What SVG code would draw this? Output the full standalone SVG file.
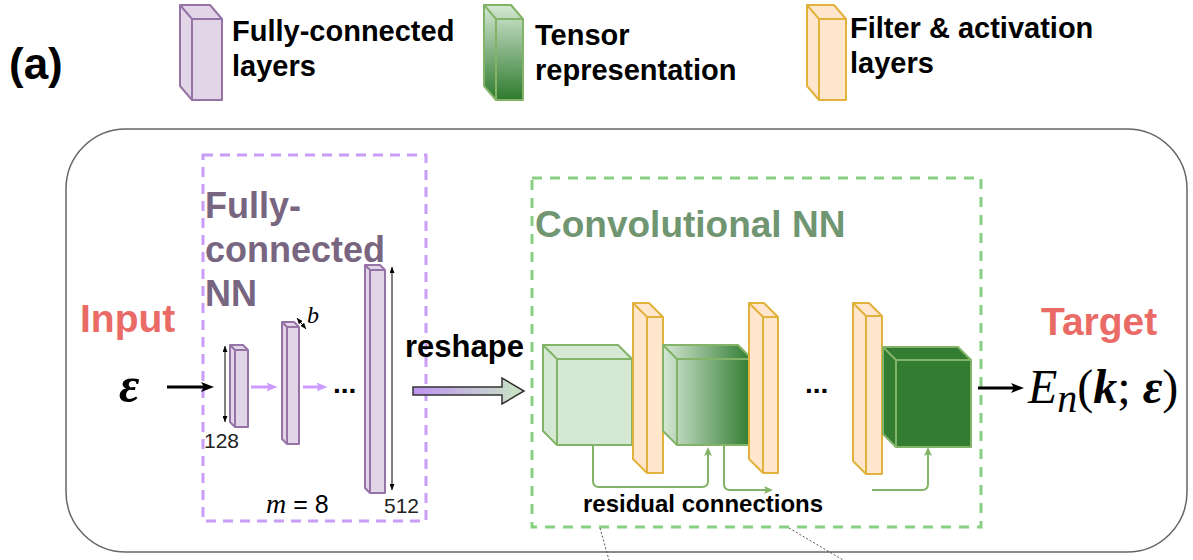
<svg xmlns="http://www.w3.org/2000/svg" width="1193" height="560" viewBox="0 0 1193 560">
<style>
.sans{font-family:"Liberation Sans",Arial,sans-serif}
.b{font-weight:bold}
.ser{font-family:"Liberation Serif","Times New Roman",serif}
.fc{fill:#e1d5e7;stroke:#9673a6;stroke-width:2;stroke-linejoin:round}
.fci{fill:none;stroke:#9673a6;stroke-width:2}
.lg{fill:#d5e8d4;stroke:#82b366;stroke-width:2;stroke-linejoin:round}
.gi{fill:none;stroke:#82b366;stroke-width:2}
.sl{fill:#ffe6cc;stroke:#e2b23c;stroke-width:2;stroke-linejoin:round}
.sli{fill:none;stroke:#e2b23c;stroke-width:2}
.res{fill:none;stroke:#82b366;stroke-width:2}
.dim{stroke:#000;stroke-width:1;fill:none}
</style>
<defs>
<marker id="aBlk" markerUnits="userSpaceOnUse" markerWidth="13" markerHeight="11" refX="3" refY="5" orient="auto"><path d="M0,0 L13,5 L0,10 L3,5 Z" fill="#000"/></marker>
<marker id="aPur" markerUnits="userSpaceOnUse" markerWidth="11" markerHeight="10" refX="2.5" refY="4.5" orient="auto"><path d="M0,0 L11,4.5 L0,9 L2.5,4.5 Z" fill="#cc99ff"/></marker>
<marker id="aGrn" markerUnits="userSpaceOnUse" markerWidth="10" markerHeight="9" refX="2" refY="4" orient="auto"><path d="M0,0 L9,4 L0,8 L2,4 Z" fill="#82b366"/></marker>
<marker id="aDim" markerUnits="userSpaceOnUse" markerWidth="6" markerHeight="5" refX="6" refY="2.5" orient="auto-start-reverse"><path d="M0,0 L6,2.5 L0,5 Z" fill="#000"/></marker>
<linearGradient id="gLeg" gradientUnits="userSpaceOnUse" x1="0" y1="5" x2="0" y2="100"><stop offset="0" stop-color="#d5e8d4"/><stop offset="1" stop-color="#2d7a2d"/></linearGradient>
<linearGradient id="gC2" gradientUnits="userSpaceOnUse" x1="663" y1="0" x2="752" y2="0"><stop offset="0" stop-color="#d5e8d4"/><stop offset="1" stop-color="#2f7b30"/></linearGradient>
<linearGradient id="gRes" gradientUnits="userSpaceOnUse" x1="413" y1="0" x2="524" y2="0"><stop offset="0" stop-color="#bf93f2"/><stop offset="1" stop-color="#c9e7c3"/></linearGradient>
</defs>

<rect width="1193" height="560" fill="#fff"/>

<g id="legend">
<text class="sans b" x="9" y="79" font-size="44">(a)</text>
<g id="legend-fc">
<path class="fc" d="M180,5 H210 L222,19 V100 H192 L180,86 Z"/>
<path class="fci" d="M180,5 L192,19 H222 M192,19 V100"/>
<text class="sans b" font-size="29"><tspan x="232" y="41">Fully-connected</tspan><tspan x="232" y="76">layers</tspan></text>
</g>
<g id="legend-tensor">
<path d="M484,5 H511 L523,19 V100 H496 L484,86 Z" fill="url(#gLeg)" stroke="#82b366" stroke-width="2" stroke-linejoin="round"/>
<path class="gi" d="M484,5 L496,19 H523 M496,19 V100"/>
<text class="sans b" font-size="29"><tspan x="535" y="45">Tensor</tspan><tspan x="535" y="80">representation</tspan></text>
</g>
<g id="legend-filter">
<path class="sl" d="M807,5 H834 L846,19 V100 H819 L807,86 Z"/>
<path class="sli" d="M807,5 L819,19 H846 M819,19 V100"/>
<text class="sans b" font-size="29"><tspan x="850" y="38">Filter &amp; activation</tspan><tspan x="850" y="73">layers</tspan></text>
</g>
</g>

<g id="frame">
<rect x="66" y="129" width="1121" height="423" rx="60" ry="60" fill="none" stroke="#666" stroke-width="1.5"/>
</g>

<g id="fc-group">
<rect x="203" y="155" width="223" height="366" fill="none" stroke="#c89cf7" stroke-width="3" stroke-dasharray="10 7"/>
<text class="sans b" font-size="36" fill="#786580"><tspan x="205" y="218">Fully-</tspan><tspan x="205" y="262">connected</tspan><tspan x="205" y="306">NN</tspan></text>
</g>

<g id="cnn-group">
<rect x="532" y="178" width="449" height="349" fill="none" stroke="#87cf82" stroke-width="3" stroke-dasharray="10 8"/>
<text class="sans b" x="535" y="237" font-size="37" fill="#6f9670">Convolutional NN</text>
</g>

<g id="input">
<text class="sans b" x="80" y="332" font-size="39" fill="#ea6b66">Input</text>
<text class="ser b" x="119" y="402" font-size="50" font-style="italic">ε</text>
</g>

<g id="fc1">
<path class="fc" d="M230,345 H243 L248,350 V427 H235 L230,422 Z"/>
<path class="fci" d="M230,345 L235,350 H248 M235,350 V427"/>
<line class="dim" x1="225" y1="346" x2="225" y2="422" marker-start="url(#aDim)" marker-end="url(#aDim)"/>
<text class="sans" x="204" y="448" font-size="21" fill="#222">128</text>
</g>
<g id="fc2">
<path class="fc" d="M282,322 H294 L299,327 V444 H287 L282,439 Z"/>
<path class="fci" d="M282,322 L287,327 H299 M287,327 V444"/>
<line class="dim" x1="297" y1="318" x2="306" y2="329" marker-start="url(#aDim)" marker-end="url(#aDim)"/>
<text class="ser" x="307" y="323" font-size="24" font-style="italic">b</text>
</g>
<g id="fc3">
<path class="fc" d="M365,265 H380 L385,270 V493 H370 L365,488 Z"/>
<path class="fci" d="M365,265 L370,270 H385 M370,270 V493"/>
<line class="dim" x1="392" y1="267" x2="392" y2="490" marker-start="url(#aDim)" marker-end="url(#aDim)"/>
<text class="sans" x="384" y="513" font-size="21" fill="#222">512</text>
</g>
<g id="fc-labels">
<text class="sans b" x="333" y="393" font-size="28">...</text>
<text x="266" y="513" font-size="25"><tspan class="ser" font-style="italic" font-size="28">m</tspan><tspan class="sans"> = 8</tspan></text>
</g>

<g id="reshape">
<text class="sans b" x="405" y="357" font-size="31">reshape</text>
<path d="M413,387 H502 V378 L524,391 L502,404 V395 H413 Z" fill="url(#gRes)" stroke="#333" stroke-width="1.5" stroke-linejoin="miter"/>
</g>

<g id="cube1">
<path class="lg" d="M543,345 H618 L632,359 V445 H557 L543,431 Z"/>
<path class="gi" d="M543,345 L557,359 H632 M557,359 V445"/>
</g>
<g id="filter1">
<path class="sl" d="M633,303 H649 L663,317 V473 H647 L633,459 Z"/>
<path class="sli" d="M633,303 L647,317 H663 M647,317 V473"/>
</g>
<g id="cube2">
<path d="M663,345 H738 L752,359 V445 H677 L663,431 Z" fill="url(#gC2)" stroke="#82b366" stroke-width="2" stroke-linejoin="round"/>
<path class="gi" d="M663,345 L677,359 H752 M677,359 V445"/>
</g>
<g id="filter2">
<path class="sl" d="M749,303 H764 L778,317 V473 H763 L749,459 Z"/>
<path class="sli" d="M749,303 L763,317 H778 M763,317 V473"/>
</g>
<g id="dots2">
<text class="sans b" x="805" y="393" font-size="28">...</text>
</g>
<g id="filter3">
<path class="sl" d="M853,303 H869 L882,316 V474 H866 L853,461 Z"/>
<path class="sli" d="M853,303 L866,316 H882 M866,316 V474"/>
</g>
<g id="cube3">
<path d="M883,347 H958 L971,360 V447 H896 L883,434 Z" fill="#337d33" stroke="#82b366" stroke-width="2" stroke-linejoin="round"/>
<path class="gi" d="M883,347 L896,360 H971 M896,360 V447"/>
</g>

<g id="target">
<text class="sans b" x="1041" y="335" font-size="39" fill="#ea6b66">Target</text>
<text class="ser" x="1028" y="403" font-size="48" font-style="italic">E<tspan font-size="40" dy="9">n</tspan><tspan dy="-9" font-style="normal">(</tspan><tspan font-weight="bold">k</tspan><tspan font-style="normal">; </tspan><tspan font-weight="bold">ε</tspan><tspan font-style="normal">)</tspan></text>
</g>

<g id="residual-label">
<text class="sans b" x="583" y="512" font-size="24">residual connections</text>
</g>

<g id="connectors">
<line x1="167" y1="387" x2="204" y2="387" stroke="#000" stroke-width="3" marker-end="url(#aBlk)"/>
<line x1="251" y1="387" x2="269" y2="387" stroke="#cc99ff" stroke-width="3" marker-end="url(#aPur)"/>
<line x1="303" y1="387" x2="319" y2="387" stroke="#cc99ff" stroke-width="3" marker-end="url(#aPur)"/>
<line x1="978" y1="388" x2="1014" y2="388" stroke="#000" stroke-width="3" marker-end="url(#aBlk)"/>
<path class="res" d="M593,445 V481 Q593,487 599,487 H702 Q708,487 708,481 V454" marker-end="url(#aGrn)"/>
<path class="res" d="M724,445 V484 Q724,490 730,490 H766" marker-end="url(#aGrn)"/>
<path class="res" d="M872,490 H922 Q928,490 928,484 V454" marker-end="url(#aGrn)"/>
<line x1="600" y1="528" x2="609" y2="560" stroke="#555" stroke-width="1" stroke-dasharray="2 2"/>
<line x1="789" y1="528" x2="843" y2="560" stroke="#555" stroke-width="1" stroke-dasharray="2 2"/>
</g>
</svg>
